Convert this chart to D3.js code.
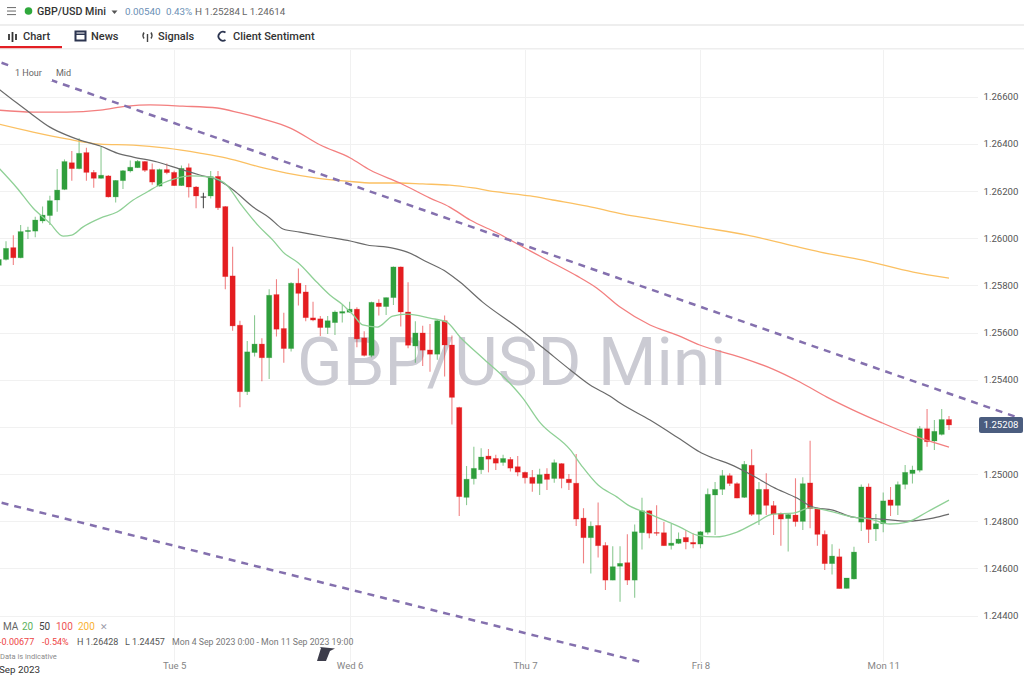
<!DOCTYPE html>
<html><head><meta charset="utf-8">
<script src="https://cdn.jsdelivr.net/npm/d3@7"></script>
<style>
html,body{margin:0;padding:0;background:#fff;overflow:hidden}
svg{display:block;font-family:Roboto,sans-serif}
</style></head><body><svg id="c" width="1024" height="676"></svg>
<script>
const opens=[1.25885,1.25910,1.25960,1.25917,1.26028,1.26030,1.26073,1.26096,1.26162,1.26207,
1.26320,1.26295,1.26363,1.26279,1.26254,1.26264,1.26175,1.26244,1.26285,1.26299,
1.26325,1.26291,1.26221,1.26291,1.26279,1.26223,1.26299,1.26217,1.26176,1.26179,
1.26262,1.26134,1.25840,1.25631,1.25349,1.25515,1.25551,1.25493,1.25761,1.25617,
1.25532,1.25809,1.25772,1.25662,1.25658,1.25621,1.25642,1.25682,1.25686,1.25699,
1.25577,1.25503,1.25725,1.25710,1.25748,1.25878,1.25687,1.25543,1.25598,1.25526,
1.25508,1.25650,1.25547,1.25282,1.24901,1.24980,1.25018,1.25076,1.25066,1.25049,
1.25062,1.25031,1.25007,1.24986,1.24960,1.25000,1.24981,1.25044,1.24978,1.24961,
1.24813,1.24730,1.24782,1.24697,1.24550,1.24609,1.24624,1.24550,1.24751,1.24844,
1.24752,1.24751,1.24697,1.24706,1.24731,1.24710,1.24703,1.24753,1.24911,1.24935,
1.24993,1.24959,1.24901,1.25037,1.24829,1.24935,1.24866,1.24833,1.24811,1.24826,
1.24799,1.24962,1.24853,1.24744,1.24620,1.24649,1.24515,1.24555,1.24796,1.24945,
1.24767,1.24789,1.24890,1.24867,1.24956,1.25002,1.25016,1.25192,1.25140,1.25168,1.25231];
const highs=[1.25922,1.25987,1.26012,1.26056,1.26049,1.26091,1.26134,1.26180,1.26293,1.26334,
1.26370,1.26424,1.26383,1.26289,1.26388,1.26268,1.26247,1.26289,1.26329,1.26332,
1.26327,1.26317,1.26295,1.26317,1.26286,1.26308,1.26317,1.26221,1.26193,1.26285,
1.26285,1.26137,1.25964,1.25650,1.25564,1.25673,1.25576,1.25783,1.25826,1.25684,
1.25813,1.25872,1.25802,1.25730,1.25670,1.25670,1.25693,1.25717,1.25730,1.25707,
1.25605,1.25731,1.25741,1.25749,1.25880,1.25880,1.25813,1.25648,1.25629,1.25636,
1.25653,1.25672,1.25587,1.25285,1.25034,1.25116,1.25109,1.25106,1.25082,1.25082,
1.25072,1.25076,1.25011,1.25017,1.25022,1.25024,1.25062,1.25046,1.25000,1.25085,
1.24855,1.24799,1.24879,1.24711,1.24694,1.24694,1.24745,1.24786,1.24899,1.24847,
1.24868,1.24796,1.24788,1.24752,1.24763,1.24748,1.24758,1.24939,1.24966,1.25017,
1.25003,1.24965,1.25055,1.25105,1.24966,1.25003,1.24886,1.24837,1.24833,1.24982,
1.24986,1.25141,1.24857,1.24760,1.24702,1.24683,1.24559,1.24692,1.24956,1.24960,
1.24830,1.24922,1.24945,1.24968,1.25038,1.25035,1.25204,1.25276,1.25229,1.25276,1.25246];
const lows=[1.25882,1.25905,1.25886,1.25915,1.25997,1.26004,1.26063,1.26056,1.26112,1.26204,
1.26244,1.26292,1.26244,1.26214,1.26252,1.26173,1.26151,1.26209,1.26279,1.26298,
1.26281,1.26227,1.26219,1.26271,1.26221,1.26221,1.26173,1.26127,1.26127,1.26168,
1.26120,1.25783,1.25608,1.25283,1.25335,1.25498,1.25393,1.25403,1.25583,1.25472,
1.25519,1.25715,1.25648,1.25648,1.25585,1.25594,1.25590,1.25642,1.25684,1.25537,
1.25498,1.25495,1.25672,1.25674,1.25717,1.25625,1.25533,1.25472,1.25458,1.25434,
1.25484,1.25413,1.25210,1.24822,1.24868,1.24956,1.25000,1.25007,1.25017,1.25035,
1.25011,1.24990,1.24960,1.24925,1.24911,1.24932,1.24963,1.24940,1.24932,1.24780,
1.24621,1.24578,1.24646,1.24508,1.24550,1.24458,1.24529,1.24475,1.24680,1.24728,
1.24738,1.24696,1.24680,1.24703,1.24681,1.24685,1.24685,1.24744,1.24741,1.24911,
1.24949,1.24897,1.24898,1.24822,1.24784,1.24826,1.24741,1.24696,1.24671,1.24777,
1.24763,1.24770,1.24696,1.24593,1.24574,1.24514,1.24514,1.24553,1.24758,1.24707,
1.24716,1.24753,1.24822,1.24826,1.24935,1.24960,1.25007,1.25116,1.25102,1.25163,1.25187];
const closes=[1.25910,1.25957,1.25917,1.26028,1.26033,1.26077,1.26098,1.26159,1.26204,1.26325,
1.26295,1.26360,1.26279,1.26254,1.26267,1.26175,1.26245,1.26286,1.26301,1.26326,
1.26288,1.26238,1.26291,1.26278,1.26223,1.26296,1.26217,1.26179,1.26176,1.26261,
1.26129,1.25837,1.25628,1.25349,1.25518,1.25551,1.25493,1.25758,1.25614,1.25532,
1.25809,1.25766,1.25663,1.25653,1.25621,1.25650,1.25687,1.25689,1.25699,1.25573,
1.25503,1.25728,1.25710,1.25748,1.25878,1.25687,1.25546,1.25598,1.25525,1.25508,
1.25650,1.25547,1.25325,1.24904,1.24978,1.25024,1.25072,1.25063,1.25046,1.25066,
1.25025,1.25008,1.24984,1.24960,1.24997,1.24977,1.25048,1.24981,1.24963,1.24809,
1.24730,1.24779,1.24696,1.24550,1.24607,1.24621,1.24550,1.24755,1.24844,1.24749,
1.24749,1.24696,1.24707,1.24724,1.24712,1.24703,1.24755,1.24914,1.24935,1.24993,
1.24960,1.24898,1.25041,1.24829,1.24935,1.24867,1.24830,1.24809,1.24828,1.24798,
1.24959,1.24853,1.24744,1.24620,1.24652,1.24514,1.24559,1.24669,1.24945,1.24765,
1.24789,1.24886,1.24867,1.24955,1.25007,1.25017,1.25192,1.25137,1.25181,1.25231,1.25208];

const ma20Index=[0,2.5,4.7,7,8.8,10,11.5,13.9,16.2,18.4,20.3,22.5,24.4,26.2,28.9,31.2,33,35.7,37.5,38.9,41,43.5,45.3,47.1,48.5,49.8,51.8,53.9,55.9,59,61.3,63.1,66.2,69.9,71.7,74,78.2,79.9,82,84.6,86.1,88.7,93.2,95.5,98,101,103.7,105.9,108.7,111,114.1,116.9,119.2,121.9,124.3,127,130];
const ma20=[1.26298,1.26213,1.26128,1.26064,1.26009,1.26013,1.26047,1.26085,1.26111,1.26162,1.26196,1.26234,1.26255,1.26264,1.26259,1.26225,1.26149,1.26047,1.25992,1.25941,1.25895,1.25814,1.25759,1.25717,1.25674,1.25632,1.25623,1.25670,1.25678,1.25661,1.25644,1.25581,1.25492,1.25386,1.25322,1.25220,1.25102,1.25029,1.24953,1.24902,1.24868,1.24834,1.24775,1.24741,1.24733,1.24754,1.24796,1.24830,1.24834,1.24856,1.24839,1.24817,1.24809,1.24788,1.24796,1.24839,1.24889];
const ma50Index=[0,2.5,4.3,7,9.3,11.1,13.9,16.2,18.4,21.7,24.8,27.5,30.3,32.1,34.8,37.1,38.9,41.2,44.9,48.1,50.4,53.9,55.9,58.6,61.3,63.1,66.2,70.9,74.5,78.2,80.9,83.6,85,89.1,93.2,95.9,97.7,100,103,105.9,109.2,111.4,114.1,116.9,120.6,124.3,127.8,130];
const ma50=[1.26633,1.26573,1.26531,1.26471,1.26437,1.26416,1.26391,1.26361,1.26344,1.26323,1.26293,1.26268,1.26242,1.26204,1.26132,1.26085,1.26039,1.26026,1.26005,1.25988,1.25971,1.25958,1.25941,1.25899,1.25856,1.25814,1.25729,1.25623,1.25534,1.25441,1.25377,1.25331,1.25301,1.25229,1.25148,1.25093,1.25068,1.25042,1.24996,1.24945,1.24898,1.24860,1.24847,1.24817,1.24809,1.24800,1.24813,1.24830];
const ma100Index=[0,4.7,9.3,13.9,17.6,20.7,25.2,29.9,33,36.2,39.9,44,48.1,50.8,54.9,59,61.7,64.5,68.2,72.7,75.8,79.1,81.8,85,89.1,92.8,95.9,101.4,105.9,109.6,113.3,116.9,120.6,125.6,130];
const ma100=[1.26543,1.26535,1.26535,1.26543,1.26560,1.26565,1.26560,1.26552,1.26531,1.26505,1.26467,1.26395,1.26340,1.26289,1.26234,1.26170,1.26132,1.26077,1.26022,1.25946,1.25895,1.25840,1.25789,1.25708,1.25632,1.25589,1.25547,1.25496,1.25445,1.25390,1.25326,1.25271,1.25220,1.25157,1.25114];
const ma200Index=[0,4.7,9.3,13.9,18.4,23,27.5,31.2,36.2,39.4,43.5,47.6,51.2,54.9,58,61.7,64.9,68.2,72.7,75.8,80.5,85.4,89.5,95.9,102.4,108.7,112.4,118.2,125.1,130];
const ma200=[1.26484,1.26450,1.26421,1.26399,1.26395,1.26382,1.26361,1.26340,1.26298,1.26276,1.26255,1.26242,1.26234,1.26234,1.26230,1.26225,1.26213,1.26196,1.26179,1.26162,1.26136,1.26102,1.26081,1.26047,1.26013,1.25967,1.25941,1.25907,1.25856,1.25831];
const upperTrendIndex=[0,140];
const upperTrend=[1.26748,1.25233];
const lowerTrendIndex=[0,88];
const lowerTrend=[1.24881,1.24202];
const priceTicks=[1.266,1.264,1.262,1.26,1.258,1.256,1.254,1.252,1.25,1.248,1.246,1.244];
const priceLabels=["1.26600","1.26400","1.26200","1.26000","1.25800","1.25600","1.25400","","1.25000","1.24800","1.24600","1.24400"];
const dayIndex=[24,48,72,96,121];
const dayLabels=["Tue 5","Wed 6","Thu 7","Fri 8","Mon 11"];
const lastPrice=1.25208;
const maLabels=["MA","20","50","100","200"];

const svg=d3.select("#c");
const x=d3.scaleLinear().domain([0,130]).range([-1.3,949]);
const y=d3.scaleLinear().domain([1.266,1.244]).range([96.7,615.5]);
const up="#2f9e3c",dn="#e41d20",doji="#3a3a3a";
const ease=i=>closes[i]>opens[i]?up:closes[i]<opens[i]?dn:doji;

const gy=svg.append("g").attr("transform","translate(978,0)")
 .call(d3.axisLeft(y).tickValues(priceTicks).tickSize(978).tickFormat(""));
gy.select(".domain").remove();
gy.selectAll("line").attr("stroke","#f1f1f1").attr("shape-rendering","crispEdges");
const gx=svg.append("g").attr("transform","translate(0,662)")
 .call(d3.axisBottom(x).tickValues(dayIndex).tickSizeInner(-612).tickSizeOuter(0).tickFormat(""));
gx.select(".domain").remove();
gx.selectAll("line").attr("stroke","#f1f1f1").attr("shape-rendering","crispEdges");

svg.append("text").attr("x",297).attr("y",385).attr("font-size",67).attr("fill","#cbcbd3").text("GBP/USD Mini");

const cg=svg.append("g");
const idx=d3.range(opens.length);
cg.selectAll(".w").data(idx).join("line").attr("class","w")
 .attr("x1",i=>x(i)).attr("x2",i=>x(i)).attr("y1",i=>y(highs[i])).attr("y2",i=>y(lows[i]))
 .attr("stroke",ease).attr("stroke-width",1.1).attr("stroke-opacity",i=>closes[i]===opens[i]?0.9:0.55);
cg.selectAll(".b").data(idx).join("rect").attr("class","b")
 .attr("x",i=>x(i)-2.6).attr("width",5.2)
 .attr("y",i=>y(Math.max(opens[i],closes[i])))
 .attr("height",i=>Math.max(0.8,Math.abs(y(opens[i])-y(closes[i]))))
 .attr("fill",ease).attr("stroke",ease).attr("stroke-opacity",0.3).attr("stroke-width",0.8);

function poly(ix,vals,col,w,dash){
 const pts=ix.map((d,i)=>[d,vals[i]]);
 const l=d3.line().x(d=>x(d[0])).y(d=>y(d[1])).curve(d3.curveMonotoneX);
 const p=svg.append("path").attr("d",l(pts)).attr("fill","none").attr("stroke",col).attr("stroke-width",w);
 if(dash)p.attr("stroke-dasharray",dash).attr("stroke-dashoffset",-3);
 return p;
}
poly(ma200Index,ma200,"#fbc062",1.3);
poly(ma100Index,ma100,"#f37f7f",1.3);
poly(ma50Index,ma50,"#6a6a6a",1.2);
poly(ma20Index,ma20,"#8fd096",1.3);
poly(upperTrendIndex,upperTrend,"#8470ae",2.5,"7 6");
poly(lowerTrendIndex,lowerTrend,"#8470ae",2.5,"7 6");

svg.append("rect").attr("width",1024).attr("height",50).attr("fill","#fff");
svg.append("rect").attr("y",663).attr("width",1024).attr("height",13).attr("fill","#fff");
svg.append("rect").attr("x",10).attr("y",60).attr("width",42).attr("height",21).attr("fill","#fff");

const ax=svg.append("g").attr("transform","translate(983.5,0)")
 .call(d3.axisRight(y).tickValues(priceTicks).tickSize(0).tickPadding(0).tickFormat((d,i)=>priceLabels[i]));
ax.select(".domain").remove();
ax.selectAll("text").attr("font-size",9.6).attr("fill","#555").attr("font-family","Roboto,sans-serif");

svg.append("rect").attr("x",979).attr("y",y(lastPrice)-8).attr("width",44).attr("height",16).attr("rx",2).attr("fill","#4b5d7f");
svg.append("text").attr("x",1001).attr("y",y(lastPrice)+3.5).attr("text-anchor","middle").attr("font-size",9.6).attr("fill","#fff").text(d3.format(".5f")(lastPrice));

const xl=svg.append("g").attr("transform","translate(0,664)")
 .call(d3.axisBottom(x).tickValues(dayIndex).tickSize(0).tickPadding(0).tickFormat((d,i)=>dayLabels[i]));
xl.select(".domain").remove();
xl.selectAll("text").attr("font-size",9.6).attr("fill","#858585").attr("font-family","Roboto,sans-serif").attr("dy","0.55em");
function t(xp,yp,s,col,size,weight,anchor){
 return svg.append("text").attr("x",xp).attr("y",yp).attr("font-size",size).attr("fill",col)
  .attr("font-weight",weight||400).attr("text-anchor",anchor||"start").text(s);
}
t(-1,673,"Sep 2023","#333",9.8);

svg.append("rect").attr("y",24).attr("width",1024).attr("height",2).attr("fill","#eeeeee");
svg.append("rect").attr("y",48).attr("width",1024).attr("height",1.5).attr("fill","#eeeeee");
svg.append("rect").attr("y",46).attr("width",62).attr("height",2.2).attr("fill","#e31e24");
[7,10.5,14].forEach(v=>svg.append("rect").attr("x",7).attr("y",v).attr("width",9).attr("height",1.1).attr("fill","#777"));
svg.append("circle").attr("cx",28.5).attr("cy",11).attr("r",3.8).attr("fill","#2fa83c");
t(37,15.3,"GBP/USD Mini","#333",10.7,500);
svg.append("path").attr("d","M111.5 10.5h6l-3 3.5z").attr("fill","#555");
t(125,15,"0.00540","#6a8fb5",9.8);
t(166,15,"0.43%","#6a8fb5",9.8);
t(195,15,"H 1.25284","#666",9.8);
t(242,15,"L 1.24614","#666",9.8);
[[9,34,40],[12.5,32,42],[16,34,40]].forEach(a=>svg.append("line").attr("x1",a[0]).attr("x2",a[0]).attr("y1",a[1]).attr("y2",a[2]).attr("stroke","#333").attr("stroke-width",1.8));
t(23,40,"Chart","#333",11,500);
svg.append("rect").attr("x",75.5).attr("y",31.5).attr("width",10).attr("height",9).attr("fill","none").attr("stroke","#2c3550").attr("stroke-width",2);
svg.append("rect").attr("x",75.5).attr("y",33.5).attr("width",10).attr("height",1.5).attr("fill","#2c3550");
t(91,40,"News","#333",11,500);
svg.append("path").attr("d","M147.5 34v8M144 32.5q-2 3 0 6M151 32.5q2 3 0 6").attr("fill","none").attr("stroke","#444").attr("stroke-width",1.4);
t(158,40,"Signals","#333",11,500);
svg.append("path").attr("d","M225.5 32.5A4.5 4.5 0 1 0 225.5 40").attr("fill","none").attr("stroke","#2c3550").attr("stroke-width",1.8);
t(233,40,"Client Sentiment","#333",11,500);
t(15,76,"1 Hour","#666",9);
t(56,76,"Mid","#666",9);

t(3,630,maLabels[0],"#666",10);
t(22,630,maLabels[1],"#5cb25c",10);
t(39,630,maLabels[2],"#444",10);
t(56,630,maLabels[3],"#ee5555",10);
t(78,630,maLabels[4],"#f9b233",10);
t(99.5,630,"✕","#9a9aa8",8.5);
t(-1,645,"-0.00677","#ee4444",9);
t(42,645,"-0.54%","#ee4444",9);
t(77,645,"H 1.26428","#555",9);
t(125,645,"L 1.24457","#555",9);
t(172,645,"Mon 4 Sep 2023 0:00 - Mon 11 Sep 2023 19:00","#777",8.75);
t(0,659,"Data is indicative","#8a8a8a",7.5);

svg.append("path").attr("d","M317 661L321 648L319.5 647L335 648.5L330 651L326 661Z").attr("fill","#3d3d4b");
</script></body></html>
